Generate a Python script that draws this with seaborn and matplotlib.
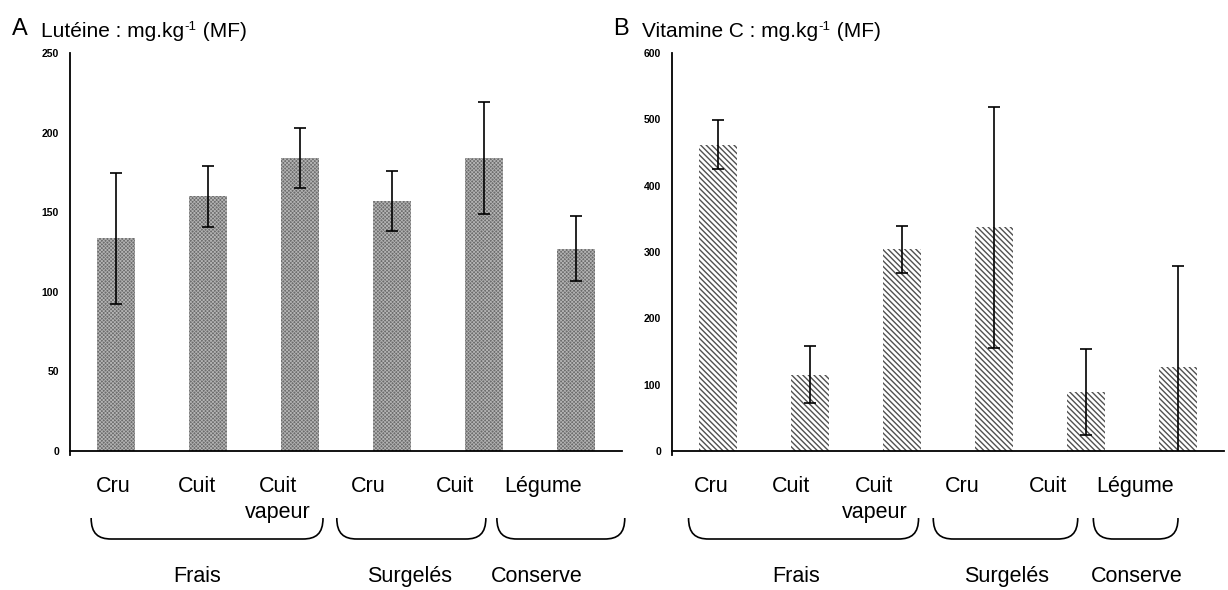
import matplotlib
matplotlib.use("Agg")
import matplotlib.pyplot as plt
from matplotlib.path import Path
from matplotlib.patches import PathPatch
from matplotlib.transforms import blended_transform_factory
import seaborn as sns
import pandas as pd

# ---- data ----
conditions = ["Cru", "Cuit", "Cuit\nvapeur", "Cru", "Cuit", "Légume"]
groups = ["Frais", "Surgelés", "Conserve"]
keys = ["frais_cru", "frais_cuit", "frais_vapeur", "surg_cru", "surg_cuit", "conserve"]

lutein_mean = [133.5, 160, 184, 157, 184, 127]
lutein_err = [41, 19, 19, 19, 35, 20.5]

vitc_mean = [462, 115, 304, 337, 89, 127]
vitc_err = [37, 43, 35, 182, 65, 152]

sns.set_theme(style="white")
plt.rcParams["font.family"] = ["Liberation Sans", "DejaVu Sans"]
plt.rcParams["text.color"] = "black"
plt.rcParams["ytick.color"] = "black"

W, H = 1228, 590
fig = plt.figure(figsize=(W / 100, H / 100), dpi=100)

def fx(px):
    return px / W

def fy(py):
    return (H - py) / H

axA = fig.add_axes([fx(70), fy(451), fx(552), 398 / H])
axB = fig.add_axes([fx(672), fy(451), fx(552), 398 / H])


def draw_panel(ax, means, errs, ymax, ystep, style):
    hlw = 0.55 if style == "check" else 1.0
    with plt.rc_context({"hatch.linewidth": hlw}):
        df = pd.DataFrame({"cond": keys, "val": means})
        sns.barplot(data=df, x="cond", y="val", order=keys, width=0.42,
                    errorbar=None, ax=ax)
        for p in ax.patches:
            if style == "check":
                p.set_facecolor("#6c6c6c")
                p.set_edgecolor("#b4b4b4")
                p.set_hatch("xxxxxxxxx")
            else:
                p.set_facecolor("white")
                p.set_edgecolor("#505050")
                p.set_hatch("\\\\\\\\\\\\")
            p.set_linewidth(0)
            if hasattr(p, "set_hatch_linewidth"):
                p.set_hatch_linewidth(hlw)
    ax.errorbar(range(len(means)), means, yerr=errs, fmt="none",
                ecolor="black", elinewidth=1.2, capsize=4, capthick=1.2)
    ax.set_xlim(-0.5, len(means) - 0.5)
    ax.set_ylim(0, ymax)
    ax.set_yticks(range(0, ymax + 1, ystep))
    ax.set_xticks([])
    ax.set_xlabel("")
    ax.set_ylabel("")
    for s in ["top", "right"]:
        ax.spines[s].set_visible(False)
    for s in ["left", "bottom"]:
        ax.spines[s].set_linewidth(1.3)
        ax.spines[s].set_color("black")
    ax.spines["left"].set_bounds(-ymax * 0.01, ymax)
    ax.tick_params(axis="y", direction="out", length=4, width=1.3,
                   pad=4, labelsize=7.5, colors="black")
    for t in ax.get_yticklabels():
        t.set_fontweight("bold")


def draw_labels(ax, label_offsets, braces, group_x):
    tr = blended_transform_factory(ax.transData, fig.transFigure)
    for i, (lab, off) in enumerate(zip(conditions, label_offsets)):
        ax.text(i + off, fy(476), lab, transform=tr, ha="center", va="top",
                fontsize=15.5, linespacing=1.3, clip_on=False, color="black")
    ytop, ybot = fy(518), fy(539)
    r = 0.22
    for (x0, x1) in braces:
        verts = [(x0, ytop), (x0, ybot + (ytop - ybot) * 0.25),
                 (x0 + r * 0.35, ybot), (x0 + r, ybot),
                 (x1 - r, ybot),
                 (x1 - r * 0.35, ybot), (x1, ybot + (ytop - ybot) * 0.25),
                 (x1, ytop)]
        codes = [Path.MOVETO, Path.CURVE4, Path.CURVE4, Path.CURVE4,
                 Path.LINETO, Path.CURVE4, Path.CURVE4, Path.CURVE4]
        ax.add_patch(PathPatch(Path(verts, codes), transform=tr, fill=False,
                               edgecolor="black", linewidth=1.2,
                               clip_on=False))
    for g, gx in zip(groups, group_x):
        ax.text(gx, fy(582), g, transform=tr, ha="center", va="baseline",
                fontsize=15.5, clip_on=False, color="black")


draw_panel(axA, lutein_mean, lutein_err, 250, 50, "check")
draw_panel(axB, vitc_mean, vitc_err, 600, 100, "stripe")

draw_labels(axA, [-0.03, -0.12, -0.24, -0.26, -0.32, -0.36],
            [(-0.27, 2.25), (2.40, 4.02), (4.14, 5.53)],
            [(197 - 70) / 92 - 0.5, (410 - 70) / 92 - 0.5, (537 - 70) / 92 - 0.5])
draw_labels(axB, [-0.07, -0.21, -0.30, -0.35, -0.41, -0.47],
            [(-0.32, 2.18), (2.34, 3.91), (4.08, 5.0)],
            [(796 - 672) / 92 - 0.5, (1007 - 672) / 92 - 0.5, (1137 - 672) / 92 - 0.5])


# panel titles: unit with a raised "-1" exponent
def unit_title(x_px, letter, name):
    fig.text(fx(x_px - 29), fy(35), letter, fontsize=17, va="baseline", ha="left")
    renderer = fig.canvas.get_renderer()
    t1 = fig.text(fx(x_px), fy(37), name + " : mg.kg", fontsize=15,
                  va="baseline", ha="left")
    bb = t1.get_window_extent(renderer)
    t2 = fig.text(bb.x1 / W + 0.0005, fy(37) + 7 / H, "-1", fontsize=9.5,
                  va="baseline", ha="left")
    bb2 = t2.get_window_extent(renderer)
    fig.text(bb2.x1 / W + 0.0005, fy(37), " (MF)", fontsize=15,
             va="baseline", ha="left")


unit_title(41, "A", "Lutéine")
unit_title(642, "B", "Vitamine C")

fig.savefig("out.png", dpi=100, facecolor="white")
